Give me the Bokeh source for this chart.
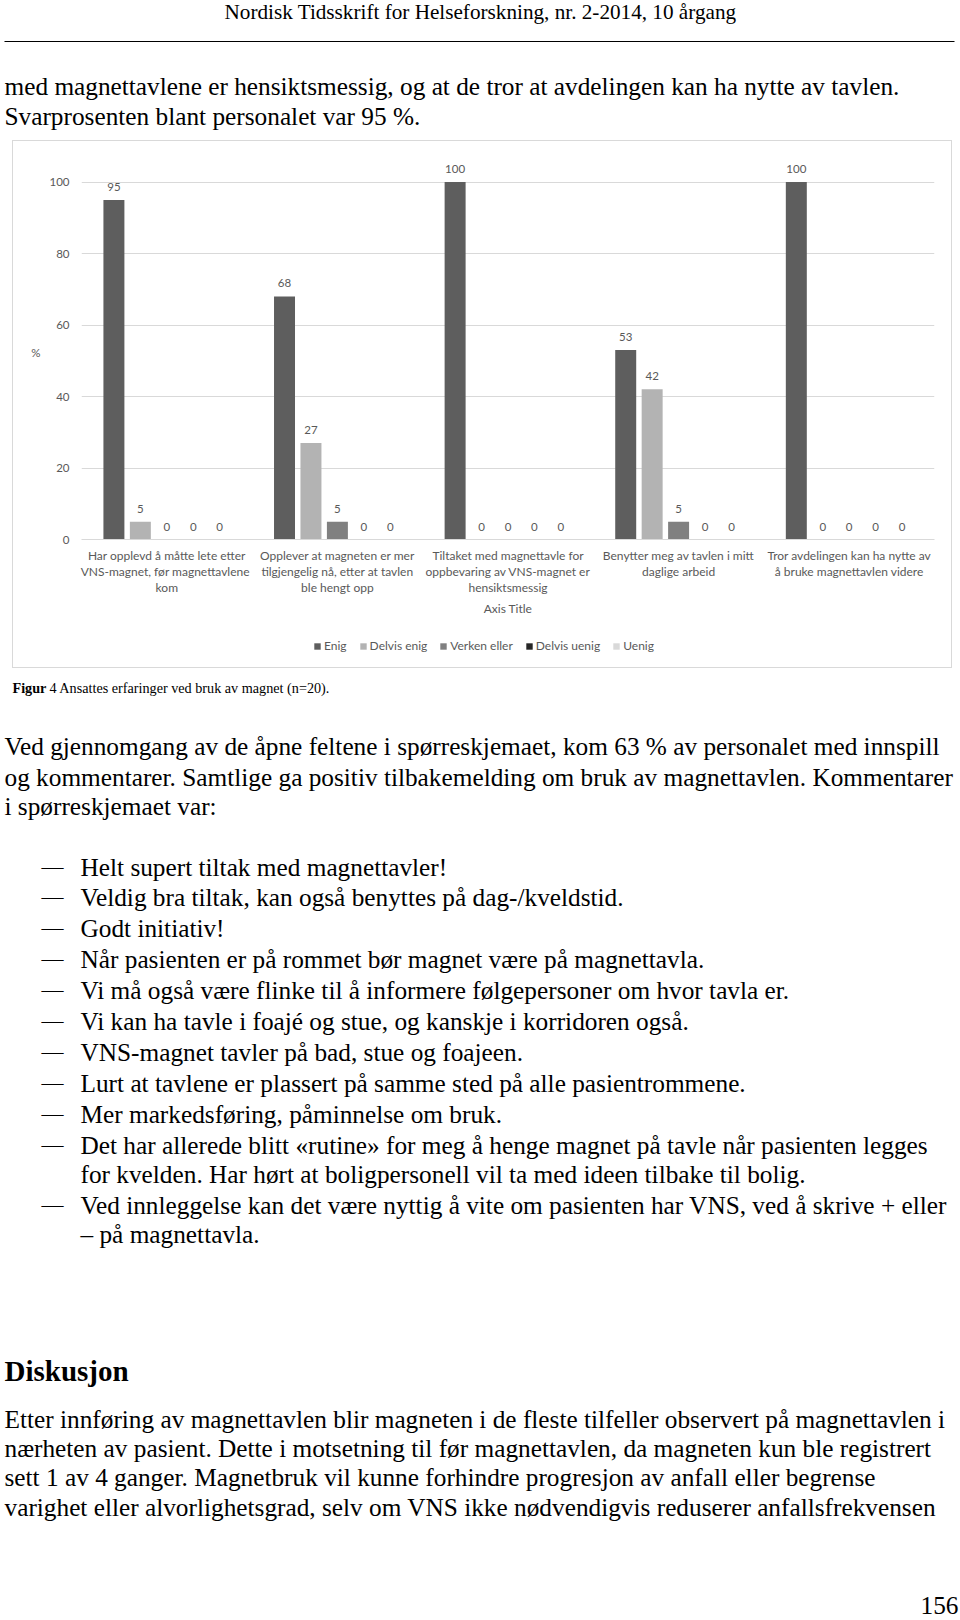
from bokeh.plotting import figure
from bokeh.models import ColumnDataSource, Range1d, FactorRange, FixedTicker, Legend, LegendItem, Spacer
from bokeh.layouts import column, row
from bokeh.transform import dodge
from bokeh.core.properties import value
from bokeh.embed import file_html
from bokeh.resources import INLINE

# ---------------- data ----------------
groups = [
    "Har opplevd å måtte lete etter\nVNS-magnet,  før magnettavlene\nkom",
    "Opplever at magneten er mer\ntilgjengelig nå, etter at tavlen\nble hengt opp",
    "Tiltaket med magnettavle for\noppbevaring av VNS-magnet er\nhensiktsmessig",
    "Benytter meg av tavlen i mitt\ndaglige arbeid",
    "Tror avdelingen kan ha nytte av\nå bruke magnettavlen videre",
]
series = ["Enig", "Delvis enig", "Verken eller", "Delvis uenig", "Uenig"]
enig = [95, 68, 100, 53, 100]
delvis_enig = [5, 27, 0, 42, 0]
verken_eller = [0, 5, 0, 5, 0]
delvis_uenig = [0, 0, 0, 0, 0]
uenig = [0, 0, 0, 0, 0]
y_ticks = [0, 20, 40, 60, 80, 100]
colors = ["#5e5e5e", "#b3b3b3", "#808080", "#262626", "#d9d9d9"]

header_text = "Nordisk Tidsskrift for Helseforskning, nr. 2-2014, 10 årgang"
top_lines = [
    "med magnettavlene er hensiktsmessig, og at de tror at avdelingen kan ha nytte av tavlen.",
    "Svarprosenten blant personalet var 95 %.",
]
caption_bold = "Figur"
caption_rest = "4 Ansattes erfaringer ved bruk av magnet (n=20)."
para1 = [
    "Ved gjennomgang av de åpne feltene i spørreskjemaet, kom 63 % av personalet med innspill",
    "og kommentarer. Samtlige ga positiv tilbakemelding om bruk av magnettavlen. Kommentarer",
    "i spørreskjemaet var:",
]
list_lines = [
    "Helt supert tiltak med magnettavler!",
    "Veldig bra tiltak, kan også benyttes på dag-/kveldstid.",
    "Godt initiativ!",
    "Når pasienten er på rommet bør magnet være på magnettavla.",
    "Vi må også være flinke til å informere følgepersoner om hvor tavla er.",
    "Vi kan ha tavle i foajé og stue, og kanskje i korridoren også.",
    "VNS-magnet tavler på bad, stue og foajeen.",
    "Lurt at tavlene er plassert på samme sted på alle pasientrommene.",
    "Mer markedsføring, påminnelse om bruk.",
    "Det har allerede blitt «rutine» for meg å henge magnet på tavle når pasienten legges",
    "for kvelden. Har hørt at boligpersonell vil ta med ideen tilbake til bolig.",
    "Ved innleggelse kan det være nyttig å vite om pasienten har VNS, ved å skrive + eller",
    "– på magnettavla.",
]
list_has_dash = [True, True, True, True, True, True, True, True, True, True, False, True, False]
heading = "Diskusjon"
para2 = [
    "Etter innføring av magnettavlen blir magneten i de fleste tilfeller observert på magnettavlen i",
    "nærheten av pasient. Dette i motsetning til før magnettavlen, da magneten kun ble registrert",
    "sett 1 av 4 ganger. Magnetbruk vil kunne forhindre progresjon av anfall eller begrense",
    "varighet eller alvorlighetsgrad, selv om VNS ikke nødvendigvis reduserer anfallsfrekvensen",
]
page_number = "156"

# ---------------- layout ----------------
W = 960
SERIF = value("Liberation Serif")
CHART_FONT = value("Lato")
GRAY = "#595959"
BODY = "25.3px"


def text_fig(h):
    f = figure(width=W, height=h, x_range=Range1d(0, W), y_range=Range1d(h, 0),
               x_axis_type=None, y_axis_type=None, output_backend="svg",
               toolbar_location=None, min_border=0, outline_line_color=None)
    f.grid.visible = False
    return f


# ---- top text figure (page y 0..140) ----
A_TOP, A_H = 0, 140
figA = text_fig(A_H)
figA.text(x=[480], y=[11 - A_TOP], text=[header_text], text_font=SERIF, text_font_size="21.2px",
          text_align="center", text_baseline="middle", text_color="black")
figA.segment(x0=[4], y0=[41 - A_TOP], x1=[954], y1=[41 - A_TOP], line_color="black", line_width=1.2)
top_y = [85, 115]
figA.text(x=[4] * len(top_lines), y=[v - A_TOP for v in top_y], text=top_lines, text_font=SERIF,
          text_font_size=BODY, text_align="left", text_baseline="middle", text_color="black")

# ---- chart (page y 140..668, x 12..952, incl. 1px border) ----
src = ColumnDataSource(dict(
    group=groups,
    Enig=enig, Delvis_enig=delvis_enig, Verken_eller=verken_eller,
    Delvis_uenig=delvis_uenig, Uenig=uenig,
    Enig_l=[str(v) for v in enig], Delvis_enig_l=[str(v) for v in delvis_enig],
    Verken_eller_l=[str(v) for v in verken_eller], Delvis_uenig_l=[str(v) for v in delvis_uenig],
    Uenig_l=[str(v) for v in uenig],
))
cols = ["Enig", "Delvis_enig", "Verken_eller", "Delvis_uenig", "Uenig"]

chart = figure(width=938, height=490, x_range=FactorRange(*groups, range_padding=0),
               y_range=Range1d(0, 104.9), output_backend="svg", toolbar_location=None,
               min_border_left=68, min_border_right=17, min_border_top=23, min_border_bottom=92,
               outline_line_color=None)
step = 0.155
for i, (name, col, c) in enumerate(zip(series, cols, colors)):
    off = (i - 2) * step
    chart.vbar(x=dodge("group", off, range=chart.x_range), top=col, width=0.123, source=src,
               fill_color=c, line_color=None, name=name)
    chart.text(x=dodge("group", off, range=chart.x_range), y=col, text=col + "_l", source=src,
               text_font=CHART_FONT, text_font_size="11.5px", text_color=GRAY,
               text_align="center", text_baseline="middle", y_offset=-13)

chart.xgrid.visible = False
chart.ygrid.ticker = FixedTicker(ticks=y_ticks)
chart.ygrid.grid_line_color = "#d9d9d9"
chart.yaxis.ticker = FixedTicker(ticks=y_ticks)
chart.yaxis.axis_line_color = None
chart.yaxis.major_tick_line_color = None
chart.yaxis.major_tick_out = 0
chart.yaxis.major_tick_in = 0
chart.yaxis.minor_tick_line_color = None
chart.yaxis.major_label_standoff = 12
chart.yaxis.major_label_text_font = "Lato"
chart.yaxis.major_label_text_font_size = "11.5px"
chart.yaxis.major_label_text_color = GRAY
chart.yaxis.axis_label = "%"
chart.yaxis.axis_label_orientation = "horizontal"
chart.yaxis.axis_label_standoff = 6
chart.yaxis.axis_label_text_baseline = "top"
chart.yaxis.axis_label_text_font = "Lato"
chart.yaxis.axis_label_text_font_size = "11.5px"
chart.yaxis.axis_label_text_font_style = "normal"
chart.yaxis.axis_label_text_color = GRAY

chart.xaxis.axis_line_color = "#d9d9d9"
chart.xaxis.major_tick_line_color = None
chart.xaxis.major_tick_out = 0
chart.xaxis.major_tick_in = 0
chart.xaxis.minor_tick_line_color = None
chart.xaxis.major_label_standoff = 8
chart.xaxis.major_label_text_font = "Lato"
chart.xaxis.major_label_text_font_size = "12px"
chart.xaxis.major_label_text_color = GRAY
chart.xaxis.major_label_text_line_height = 1.07
chart.xaxis.axis_label = "Axis Title"
chart.xaxis.axis_label_standoff = 3
chart.xaxis.axis_label_text_font = "Lato"
chart.xaxis.axis_label_text_font_size = "12px"
chart.xaxis.axis_label_text_font_style = "normal"
chart.xaxis.axis_label_text_color = GRAY

# ---- legend strip; its bars fall outside the strip's y-range ----
legfig = figure(width=938, height=36, x_range=FactorRange(*groups, range_padding=0),
                y_range=Range1d(1000, 1001), x_axis_type=None, y_axis_type=None,
                output_backend="svg", toolbar_location=None, min_border=0, outline_line_color=None)
legfig.grid.visible = False
items = []
for name, col, c in zip(series, cols, colors):
    r = legfig.vbar(x="group", top=col, width=0.1, source=src, fill_color=c, line_color=None)
    items.append(LegendItem(label=name, renderers=[r]))
legend = Legend(items=items, orientation="horizontal", location=(232, 14),
                glyph_width=8, glyph_height=8, label_height=12, label_standoff=3, spacing=12,
                padding=0, margin=0, border_line_color=None, background_fill_alpha=0,
                label_text_font="Lato", label_text_font_size="12px", label_text_color=GRAY)
legfig.add_layout(legend)

chart_box = column(chart, legfig, styles={"border": "1px solid #d9d9d9"})

# ---- bottom text figure (page y 668..1620) ----
C_TOP, C_H = 668, 952
figC = text_fig(C_H)
figC.text(x=[12], y=[687 - C_TOP], text=[caption_bold], text_font=SERIF, text_font_size="14.2px",
          text_font_style="bold", text_align="left", text_baseline="middle", text_color="black")
figC.text(x=[49], y=[687 - C_TOP], text=[caption_rest], text_font=SERIF, text_font_size="14.2px",
          text_align="left", text_baseline="middle", text_color="black")
p1_y = [745, 776, 805]
figC.text(x=[4] * 3, y=[v - C_TOP for v in p1_y], text=para1, text_font=SERIF, text_font_size=BODY,
          text_align="left", text_baseline="middle", text_color="black")
list_y = [866, 896, 927, 958, 989, 1020, 1051, 1082, 1113, 1144, 1173, 1204, 1233]
figC.text(x=[80] * len(list_lines), y=[v - C_TOP for v in list_y], text=list_lines, text_font=SERIF,
          text_font_size=BODY, text_align="left", text_baseline="middle", text_color="black")
dash_y = [v - C_TOP for v, d in zip(list_y, list_has_dash) if d]
figC.text(x=[41] * len(dash_y), y=dash_y, text=["—"] * len(dash_y), text_font=SERIF,
          text_font_size="22px", text_align="left", text_baseline="middle", text_color="black")
figC.text(x=[4], y=[1370 - C_TOP], text=[heading], text_font=SERIF, text_font_size="29px",
          text_font_style="bold", text_align="left", text_baseline="middle", text_color="black")
p2_y = [1418, 1447, 1476, 1506]
figC.text(x=[4] * 4, y=[v - C_TOP for v in p2_y], text=para2, text_font=SERIF, text_font_size=BODY,
          text_align="left", text_baseline="middle", text_color="black")
figC.text(x=[958], y=[1605 - C_TOP], text=[page_number], text_font=SERIF, text_font_size=BODY,
          text_align="right", text_baseline="middle", text_color="black")

page = column(figA, row(Spacer(width=12, height=528), chart_box), figC)
open("out.html", "w").write(file_html(page, INLINE))
